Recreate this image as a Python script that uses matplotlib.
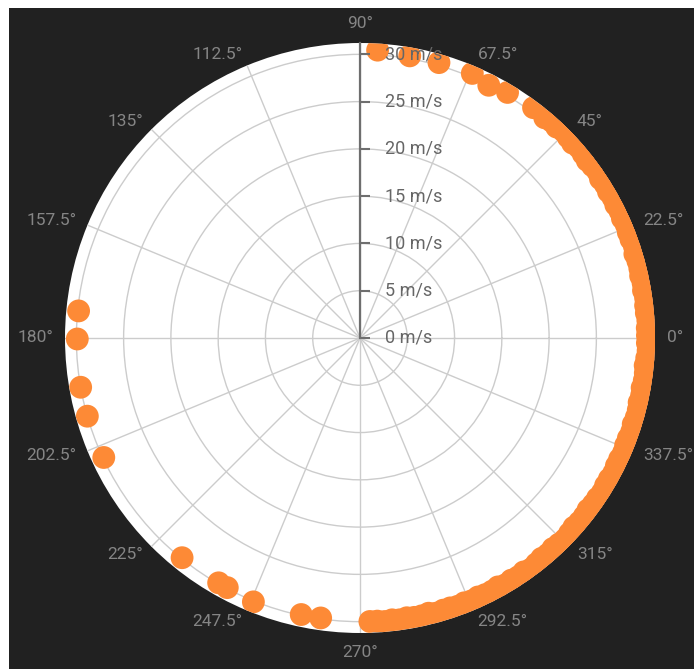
import numpy as np
import matplotlib.pyplot as plt
from matplotlib.patches import Rectangle

# wind direction (deg) and speed (m/s)
directions = [86.5, 80, 74, 67, 63, 59, 53,
              50, 48.5, 47, 45.5, 44, 42.5, 41, 39.5, 38, 36.5, 35, 33.5, 32, 30.5, 29,
              27.5, 26, 24.5, 23, 21.5, 20, 18.5, 17, 15.5, 14, 12.5, 11, 9.5, 8, 6.5,
              5, 3.5, 2, 0.5, -1, -2.5, -4, -5.5, -7, -8.5, -10, -11.5, -13, -14.5,
              -16, -17.5, -19, -20.5, -22, -23.5, -25, -26.5, -28, -29.5, -31, -32.5,
              -34, -35.5, -37, -38.5, -40, -41.5, -43, -44.5, -46, -47.5, -49, -50.5,
              -52, -53.5, -55, -56.5, -58, -59.5, -61, -62.5, -64, -65.5, -67, -68.5,
              -70, -71.5, -73, -74.5, -76, -77.5, -79, -80.5, -82, -83.5, -85, -86.5, -88,
              262, 258, 248, 242, 240, 231, 205, 196, 190, 180.2, 174.5]
speeds = [30.5, 30.3, 30.3, 30.4, 30.0, 30.3, 30.5,
          30.4, 30.6, 30.5, 30.7, 30.6, 30.5, 30.7, 30.6, 30.5, 30.6, 30.7, 30.5, 30.6, 30.5, 30.6,
          30.5, 30.6, 30.5, 30.6, 30.5, 30.5, 30.6, 30.4, 30.5, 30.5, 30.4, 30.5, 30.4, 30.5, 30.4,
          30.4, 30.5, 30.4, 30.4, 30.4, 30.5, 30.4, 30.3, 30.4, 30.4, 30.3, 30.4, 30.3, 30.4,
          30.4, 30.3, 30.4, 30.3, 30.3, 30.4, 30.3, 30.3, 30.4, 30.3, 30.3, 30.4,
          30.3, 30.3, 30.2, 30.3, 30.3, 30.2, 30.3, 30.4, 30.3, 30.2, 30.3, 30.2,
          30.3, 30.4, 30.2, 30.3, 30.2, 30.3, 30.1, 30.2, 30.2, 30.1, 30.2, 30.1,
          30.2, 30.1, 30.1, 30.2, 30.0, 30.1, 30.1, 30.0, 30.1, 30.0, 30.1, 30.0, 30.0,
          29.9, 29.9, 30.1, 29.9, 29.9, 29.9, 29.9, 30.0, 30.0, 29.9, 29.9]

angle_ticks = np.arange(0, 360, 22.5)
angle_labels = [f"{a:g}°" for a in angle_ticks]
speed_ticks = [0, 5, 10, 15, 20, 25, 30]
rmax = 31.2

W, H = 694, 669
fig = plt.figure(figsize=(W / 100, H / 100), dpi=100, facecolor='white')
fig.patches.append(Rectangle((9 / W, 0), 1, 1 - 8 / H, transform=fig.transFigure,
                             facecolor='#212121', edgecolor='none', zorder=-1))

cx, cy, R = 360, 338, 295
ax = fig.add_axes([(cx - R) / W, (H - cy - R) / H, 2 * R / W, 2 * R / H], projection='polar')
ax.set_facecolor('white')
ax.set_ylim(0, rmax)
ax.spines['polar'].set_visible(False)

ax.set_yticks(speed_ticks[1:])
ax.set_yticklabels([])
ax.set_xticks(np.deg2rad(angle_ticks))
ax.set_xticklabels([])
ax.grid(True, color='#cccccc', linewidth=1.0)
ax.tick_params(axis='x', length=7, width=1, color='#888888', direction='out')
ax.tick_params(axis='y', length=0)

# points
ax.scatter(np.deg2rad(directions), speeds, s=270, color='#fd8a36', edgecolors='none', zorder=3)

# radial axis on 90 deg
ax.plot([np.pi / 2, np.pi / 2], [0, rmax], color='#6e6e6e', lw=1.6, zorder=4, clip_on=False)
for s in speed_ticks:
    ax.plot([np.pi / 2], [s], marker=1, ms=7.5, mew=1.5, color='#6e6e6e', zorder=4, clip_on=False)
    ax.annotate(f"{s} m/s", xy=(np.pi / 2, s), xytext=(25, 0), textcoords='offset pixels',
                ha='left', va='center', fontsize=13, color='#666666', family='Roboto', zorder=5)

# angle labels
for a, lab in zip(angle_ticks, angle_labels):
    t = np.deg2rad(a)
    c, sn = np.cos(t), np.sin(t)
    ha = 'left' if c > 0.1 else ('right' if c < -0.1 else 'center')
    va = 'bottom' if sn > 0.95 else ('top' if sn < -0.95 else 'center')
    ax.text(t, rmax * 1.04, lab, ha=ha, va=va, fontsize=12.5, color='#858585',
            family='Roboto', clip_on=False)

fig.savefig('out.png', dpi=100, facecolor=fig.get_facecolor())
